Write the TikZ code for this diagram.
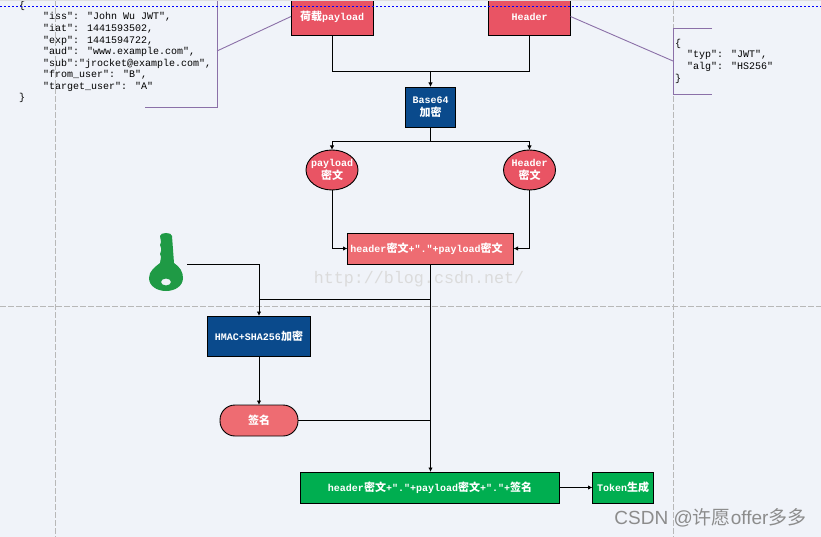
\documentclass[tikz,border=0pt]{standalone}
\usepackage{fontspec}
\setmainfont{Liberation Serif}
\newfontfamily\codefont{Liberation Mono}
\newfontfamily\hzfont{Noto Sans CJK SC}
\newfontfamily\markfont{Liberation Sans}
\usetikzlibrary{arrows.meta,shapes.geometric}
\definecolor{pagebg}{HTML}{F0F3F9}
\definecolor{redbox}{HTML}{E95464}
\definecolor{pinkbox}{HTML}{EE6C72}
\definecolor{bluebox}{HTML}{0A4A8C}
\definecolor{greenbox}{HTML}{00AE50}
\definecolor{keygreen}{HTML}{1F9A45}
\definecolor{notecol}{HTML}{8B70A8}
\newcommand{\hz}[1]{{\hzfont\bfseries\fontsize{11}{13}\selectfont #1}}
\newcommand{\ind}{\hspace*{24pt}}
\tikzset{
	box/.style={draw=black,line width=0.9pt,text=white,outer sep=0pt,inner sep=0pt,align=center,
		font=\codefont\bfseries\fontsize{10}{16}\selectfont},
	oval/.style={box,ellipse,fill=redbox,inner xsep=-10pt,inner ysep=-6pt,minimum width=52pt,minimum height=40pt},
	conn/.style={draw=black,line width=0.9pt},
	arr/.style={conn,-{Latex[length=4.5pt,width=4.5pt]}},
	note/.style={draw=notecol,line width=0.9pt},
	guide/.style={draw=black!28,line width=0.9pt,dash pattern=on 6pt off 2pt},
	code/.style={anchor=north west,inner sep=0pt,align=left,text=black,
		font=\codefont\fontsize{10}{11.55}\selectfont}
}
\begin{document}
\begin{tikzpicture}[x=1pt,y=-1pt]
	\useasboundingbox (0,0) rectangle (821,537);
	\clip (0,0) rectangle (821,537);
	\fill[pagebg] (0,0) rectangle (821,537);
	% guides
	\draw[guide] (55,0) -- (55,537);
	\draw[guide] (673,0) -- (673,537);
	\draw[guide] (0,306.5) -- (821,306.5);
	\node[text=black!14,inner sep=0pt,font=\codefont\fontsize{16.7}{20}\selectfont] (blogmark) at (419,279) {http://blog.csdn.net/};
	% boxes
	\node[box,fill=redbox,minimum width=82pt,minimum height=38pt] (load) at (332,16.5) {\hz{荷载}payload};
	\node[box,fill=redbox,minimum width=82pt,minimum height=38pt] (header) at (529.5,16.5) {Header};
	\node[box,fill=bluebox,minimum width=50pt,minimum height=40pt] (base) at (430.5,107) {Base64\\[-3pt]\hz{加密}};
	\node[oval] (loadc) at (332,170) {payload\\[-3pt]\hz{密文}};
	\node[oval] (headerc) at (529.5,170) {Header\\[-3pt]\hz{密文}};
	\node[box,fill=pinkbox,minimum width=166pt,minimum height=31pt] (join) at (430.5,248.5) {header\hz{密文}+"."+payload\hz{密文}\hspace*{8pt}};
	\node[box,fill=bluebox,minimum width=103pt,minimum height=40pt] (hmac) at (259,336) {HMAC+SHA256\hz{加密}};
	\node[box,fill=pinkbox,rounded corners=15pt,minimum width=78pt,minimum height=31pt] (sign) at (259,420.5) {\hz{签名}};
	\node[box,fill=greenbox,minimum width=259pt,minimum height=31pt] (final) at (430,487.5) {header\hz{密文}+"."+payload\hz{密文}+"."+\hz{签名}};
	\node[box,fill=greenbox,minimum width=61pt,minimum height=31pt] (token) at (623,487.5) {Token\hz{生成}};
	% key
	\fill[keygreen,even odd rule] (160,236) .. controls (160,232) and (172,232) .. (172,236)
		-- (174,263) .. controls (180,267) and (183,272) .. (183,278)
		.. controls (183,286) and (175,291) .. (166,291)
		.. controls (157,291) and (149,286) .. (149,278)
		.. controls (149,271) and (155,267) .. (160,263)
		-- (161,257) -- (160,254) -- (161,251) -- (161,248) -- (160,245) -- (161,242) -- cycle
		(171,282) arc[start angle=0,end angle=360,x radius=5,y radius=3.5];
	\coordinate (keyout) at (187,264);
	% connectors
	\coordinate (topjoin) at (430.5,71);
	\draw[conn] (load.south) |- (topjoin);
	\draw[conn] (header.south) |- (topjoin);
	\draw[arr] (topjoin) -- (base.north);
	\coordinate (midjoin) at (430.5,141);
	\draw[conn] (base.south) -- (midjoin);
	\draw[arr] (midjoin) -| (loadc.north);
	\draw[arr] (midjoin) -| (headerc.north);
	\draw[arr] (loadc.south) |- (join.west);
	\draw[arr] (headerc.south) |- (join.east);
	\draw[arr] (join.south) -- (final.north -| join.south);
	\coordinate (hmacjoin) at (259,299);
	\draw[conn] (join.south |- hmacjoin) -- (hmacjoin);
	\draw[arr] (keyout) -| (hmac.north);
	\draw[arr] (hmac.south) -- (sign.north);
	\draw[conn] (sign.east) -- (sign.east -| join.south);
	\draw[arr] (final.east) -- (token.west);
	% notes
	\draw[note] (145,107) -- (217,107) -- (217,0);
	\coordinate (loadnote) at (217,51);
	\draw[note] (loadnote) -- (load.west);
	\draw[note] (712,28) -- (673,28) -- (673,94) -- (712,94);
	\coordinate (headnote) at (673,61);
	\draw[note] (headnote) -- (header.east);
	\node[code] (loadtext) at (19,1) {\{\\
		\ind"iss": "John Wu JWT",\\
		\ind"iat": 1441593502,\\
		\ind"exp": 1441594722,\\
		\ind"aud": "www.example.com",\\
		\ind"sub":"jrocket@example.com",\\
		\ind"from\_user": "B",\\
		\ind"target\_user": "A"\\
		\}};
	\node[code] (headtext) at (675,39) {\{\\
		\hspace*{12pt}"typ": "JWT",\\
		\hspace*{12pt}"alg": "HS256"\\
		\}};
	% top edge
	\fill[black!12] (0,0) rectangle (821,1.5);
	\draw[blue,line width=1.2pt,dash pattern=on 2pt off 2pt] (0,6.5) -- (821,6.5);
	\node[text=black!45,inner sep=0pt,font=\markfont\fontsize{19}{21}\selectfont] (csdnmark) at (710.5,518) {CSDN @{\hzfont 许愿}offer{\hzfont 多多}};
\end{tikzpicture}
\end{document}
